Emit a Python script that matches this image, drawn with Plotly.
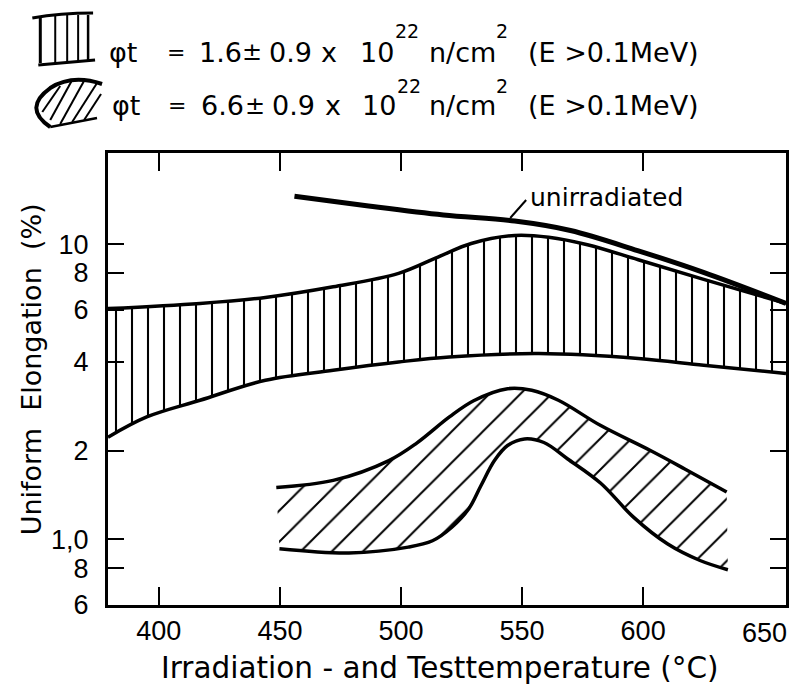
import plotly.graph_objects as go

# ---------------- data ----------------
# band 1: phi*t = 1.6e22 (vertical hatching)
band1_upper_T = [379, 417, 444, 472, 499, 515.5, 529, 547, 561, 577, 598, 625, 659]
band1_upper_E = [6.05, 6.3, 6.6, 7.17, 7.96, 9.06, 10.05, 10.7, 10.55, 9.95, 8.85, 7.6, 6.3]
band1_lower_T = [379, 395, 417, 444, 472, 499, 520, 557, 598, 625, 659]
band1_lower_E = [2.22, 2.6, 2.96, 3.46, 3.74, 3.99, 4.15, 4.26, 4.1, 3.89, 3.65]

# band 2: phi*t = 6.6e22 (diagonal hatching)
band2_upper_T = [448.5, 472, 495, 506.5, 520, 530, 544, 554, 565, 582.5, 603, 617, 634.5]
band2_upper_E = [1.50, 1.585, 1.85, 2.12, 2.6, 2.95, 3.24, 3.2, 2.96, 2.43, 2.0, 1.736, 1.447]
band2_lower_T = [449.8, 478.5, 503, 513, 521, 528, 533, 538.6, 544, 551, 559, 568.7, 582.5, 596, 610, 623.5, 635]
band2_lower_E = [0.93, 0.90, 0.942, 0.99, 1.1, 1.27, 1.52, 1.85, 2.08, 2.19, 2.13, 1.877, 1.55, 1.19, 0.967, 0.849, 0.79]

# unirradiated
unirr_T = [456, 486.6, 517.5, 547, 570, 597.7, 625.2, 659]
unirr_E = [14.53, 13.46, 12.55, 11.97, 11.12, 9.51, 8.01, 6.3]

x_tickvals = [400, 450, 500, 550, 600]
x_ticktext = ["400", "450", "500", "550", "600"]
x_extra_label = 650
y_tickvals = [0.6, 0.8, 1, 2, 4, 6, 8, 10]
y_ticktext = ["6", "8", "1,0", "2", "4", "6", "8", "10"]

legend_rows = [
    [("φt", 107, 27), ("=", 165, 22), ("1.6", 197, 27), ("±", 241, 24),
     ("0.9", 268, 27), ("x", 320, 27), ("10", 359, 27), ("22", 394, 19),
     ("n/cm", 428, 27), ("2", 496, 19), ("(E >0.1MeV)", 528, 27)],
    [("φt", 110, 27), ("=", 166, 22), ("6.6", 199, 27), ("±", 244, 24),
     ("0.9", 271, 27), ("x", 324, 27), ("10", 361, 27), ("22", 396, 19),
     ("n/cm", 428, 27), ("2", 496, 19), ("(E >0.1MeV)", 528, 27)],
]

# ---------------- layout geometry ----------------
W, H = 798, 698
L, R, T, B = 108, 9, 153, 93
PW, PH = W - L - R, H - T - B


def px(p):
    return (p - L) / PW


def py(p):
    return (H - B - p) / PH


FONT = "Liberation Sans"
DJ = "DejaVu Sans"
BLK = "black"
SPL = dict(color=BLK, width=3.5, shape="spline", smoothing=1.0)

fig = go.Figure()

# band 1
fig.add_trace(go.Scatter(x=band1_lower_T, y=band1_lower_E, mode="lines", line=SPL,
                         hoverinfo="skip", showlegend=False))
fig.add_trace(go.Scatter(x=band1_upper_T, y=band1_upper_E, mode="lines", line=SPL,
                         fill="tonexty", fillcolor="rgba(255,255,255,0)",
                         fillpattern=dict(shape="|", size=16, solidity=0.13,
                                          fgcolor=BLK, bgcolor="rgba(255,255,255,0)",
                                          fillmode="replace"),
                         hoverinfo="skip", showlegend=False))
# band 2
fig.add_trace(go.Scatter(x=band2_lower_T, y=band2_lower_E, mode="lines", line=SPL,
                         hoverinfo="skip", showlegend=False))
fig.add_trace(go.Scatter(x=band2_upper_T, y=band2_upper_E, mode="lines", line=SPL,
                         fill="tonexty", fillcolor="rgba(255,255,255,0)",
                         fillpattern=dict(shape="/", size=22, solidity=0.09,
                                          fgcolor=BLK, bgcolor="rgba(255,255,255,0)",
                                          fillmode="replace"),
                         hoverinfo="skip", showlegend=False))
# unirradiated
fig.add_trace(go.Scatter(x=unirr_T, y=unirr_E, mode="lines",
                         line=dict(color=BLK, width=5, shape="spline", smoothing=1.0),
                         hoverinfo="skip", showlegend=False))

annotations = []
shapes = []

# "unirradiated" label and leader
annotations.append(dict(text="unirradiated", xref="paper", yref="paper",
                        x=px(530), y=py(197), xanchor="left", yanchor="middle",
                        showarrow=False, font=dict(family=DJ, size=25, color=BLK)))
shapes.append(dict(type="line", xref="paper", yref="paper",
                   x0=px(512), y0=py(218), x1=px(528), y1=py(200),
                   line=dict(color=BLK, width=2)))

# extra x label 650 (no tick mark in the reference)
annotations.append(dict(text=str(x_extra_label), xref="x", yref="paper",
                        x=x_extra_label, y=py(633), xanchor="center", yanchor="middle",
                        showarrow=False, font=dict(family=FONT, size=27, color=BLK)))

# axis titles
annotations.append(dict(text="Irradiation - and Testtemperature (°C)", xref="paper", yref="paper",
                        x=px(441), y=py(668), xanchor="center", yanchor="middle",
                        showarrow=False, font=dict(family=DJ, size=29.5, color=BLK)))
annotations.append(dict(text="Uniform  Elongation  (%)", xref="paper", yref="paper",
                        x=px(31), y=py(369), xanchor="center", yanchor="middle", textangle=-90,
                        showarrow=False, font=dict(family=DJ, size=27, color=BLK)))

# legend texts
row_y = [(52, 31), (106, 86)]
for (main_y, sup_y), row in zip(row_y, legend_rows):
    for txt, xl, size in row:
        sup = size < 20
        annotations.append(dict(text=txt, xref="paper", yref="paper",
                                x=px(xl), y=py(sup_y if sup else main_y),
                                xanchor="left", yanchor="middle", showarrow=False,
                                font=dict(family=DJ, size=size, color=BLK)))


def path(points):
    return "M " + " L ".join(f"{px(a):.4f},{py(b):.4f}" for a, b in points)


def qpath(p0, c, p1):
    return (f"M {px(p0[0]):.4f},{py(p0[1]):.4f} Q {px(c[0]):.4f},{py(c[1]):.4f} "
            f"{px(p1[0]):.4f},{py(p1[1]):.4f}")


# legend icon 1 (vertical hatching box)
shapes.append(dict(type="path", xref="paper", yref="paper",
                   path=qpath((32, 18), (60, 13), (93, 13)), line=dict(color=BLK, width=3)))
shapes.append(dict(type="path", xref="paper", yref="paper",
                   path=path([(38, 65), (95, 60)]), line=dict(color=BLK, width=3)))
for xv, w in [(40, 3), (55, 2), (67, 2), (78, 2), (88, 2.5)]:
    shapes.append(dict(type="line", xref="paper", yref="paper",
                       x0=px(xv), y0=py(15 if xv > 50 else 17), x1=px(xv), y1=py(63 if xv < 60 else 61),
                       line=dict(color=BLK, width=w)))

# legend icon 2 (diagonal hatching lens)
shapes.append(dict(type="path", xref="paper", yref="paper",
                   path=(f"M {px(50):.4f},{py(127):.4f} Q {px(22):.4f},{py(108):.4f} {px(50):.4f},{py(88):.4f} "
                         f"Q {px(72):.4f},{py(74):.4f} {px(102):.4f},{py(84):.4f}"),
                   line=dict(color=BLK, width=4)))
shapes.append(dict(type="path", xref="paper", yref="paper",
                   path=path([(50, 127), (97, 118)]), line=dict(color=BLK, width=2.5)))
for (a, b), (c, d) in [((42, 112), (60, 86)), ((50, 120), (72, 80)), ((60, 124), (85, 79)),
                       ((72, 122), (97, 83)), ((84, 120), (101, 94))]:
    shapes.append(dict(type="line", xref="paper", yref="paper",
                       x0=px(a), y0=py(b), x1=px(c), y1=py(d),
                       line=dict(color=BLK, width=2)))

fig.update_layout(
    width=W, height=H,
    margin=dict(l=L, r=R, t=T, b=B, pad=0),
    paper_bgcolor="white", plot_bgcolor="white",
    showlegend=False,
    annotations=annotations,
    shapes=shapes,
    xaxis=dict(range=[379, 659], tickmode="array", tickvals=x_tickvals, ticktext=x_ticktext,
               ticks="inside", ticklen=18, tickwidth=2, tickcolor=BLK,
               showline=True, linewidth=3, linecolor=BLK, mirror="ticks",
               showgrid=False, zeroline=False, ticklabelstandoff=0,
               tickfont=dict(family=FONT, size=27, color=BLK)),
    yaxis=dict(type="log", range=[-0.2218, 1.3085], tickmode="array",
               tickvals=y_tickvals, ticktext=y_ticktext,
               ticks="inside", ticklen=16, tickwidth=2, tickcolor=BLK,
               showline=True, linewidth=3, linecolor=BLK, mirror="ticks",
               showgrid=False, zeroline=False, ticklabelstandoff=11,
               tickfont=dict(family=FONT, size=27, color=BLK)),
)

fig.write_html("out.html")
